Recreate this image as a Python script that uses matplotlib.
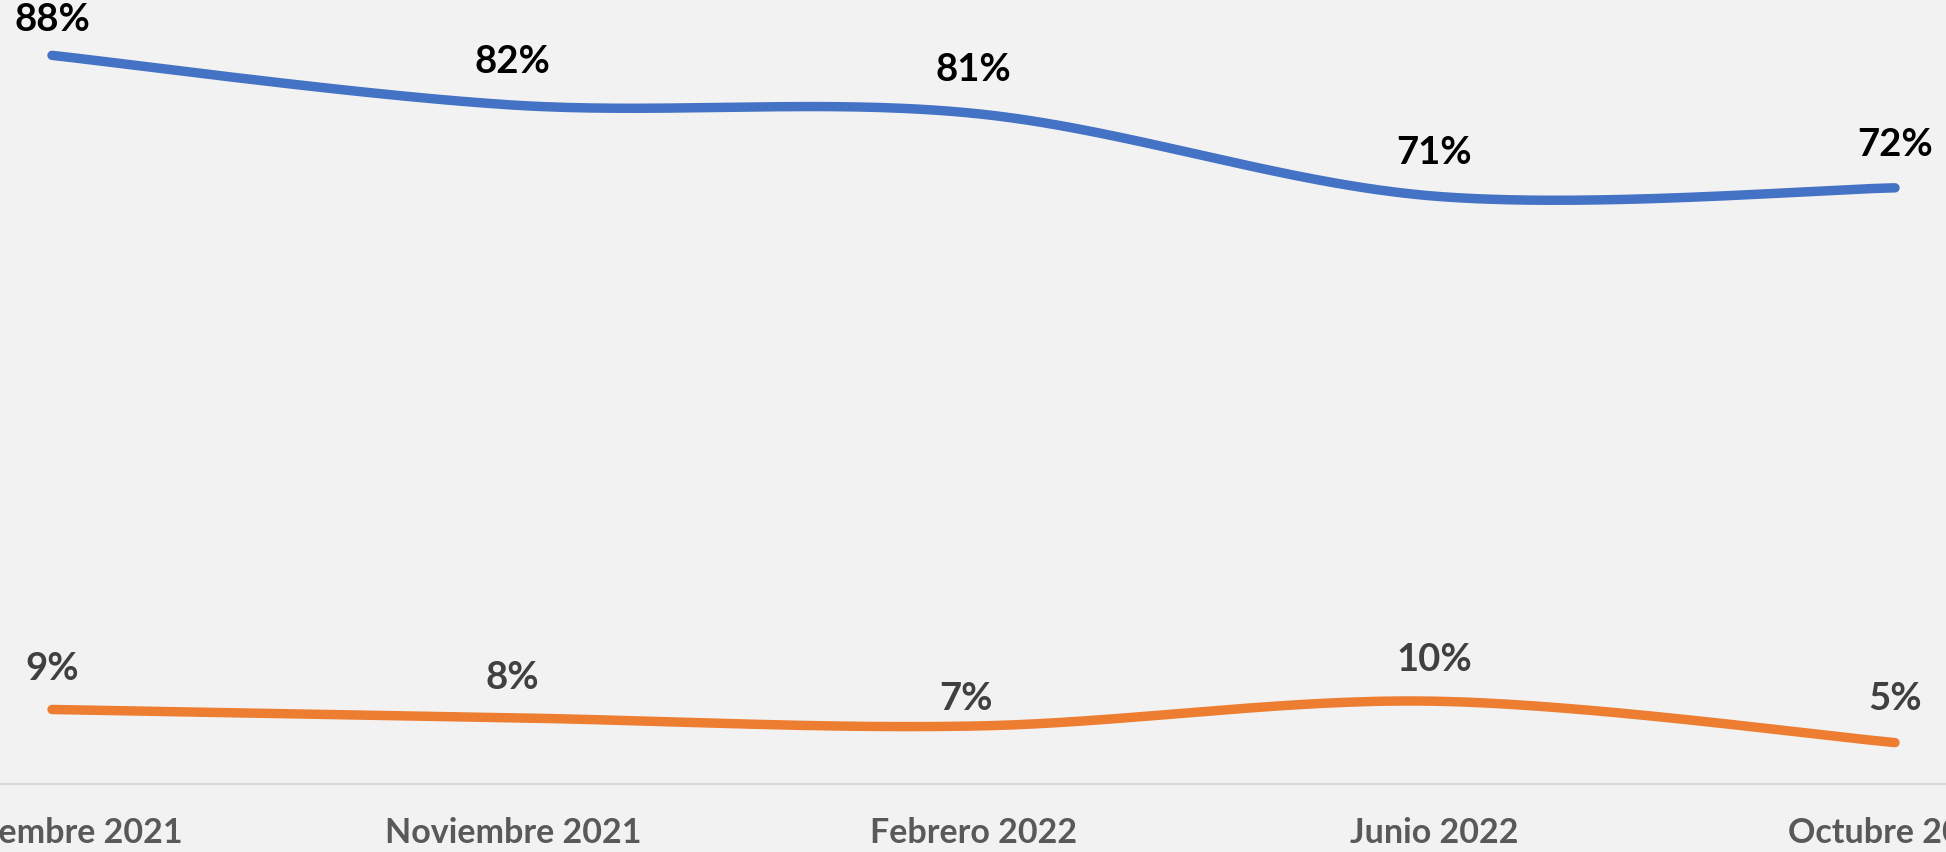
import numpy as np
import matplotlib
matplotlib.use("Agg")
import matplotlib.pyplot as plt

categories = ["Septiembre 2021", "Noviembre 2021", "Febrero 2022", "Junio 2022", "Octubre 2022"]
serie_azul = [88, 82, 81, 71, 72]
serie_naranja = [9, 8, 7, 10, 5]

plt.rcParams['font.family'] = ['Lato', 'DejaVu Sans']

BG = '#F2F2F2'
AZUL = '#4472C4'
NARANJA = '#ED7D31'


def smooth(xs, ys, n=60):
    # bezier tipo Excel (catmull-rom) entre puntos
    xs = np.asarray(xs, float)
    ys = np.asarray(ys, float)
    px = np.concatenate([[xs[0]], xs, [xs[-1]]])
    py = np.concatenate([[ys[0]], ys, [ys[-1]]])
    out_x, out_y = [], []
    t = np.linspace(0, 1, n)
    for i in range(1, len(px) - 2):
        p0 = np.array([px[i], py[i]])
        p3 = np.array([px[i + 1], py[i + 1]])
        c1 = p0 + (np.array([px[i + 1], py[i + 1]]) - np.array([px[i - 1], py[i - 1]])) / 6
        c2 = p3 - (np.array([px[i + 2], py[i + 2]]) - np.array([px[i], py[i]])) / 6
        b = ((1 - t) ** 3)[:, None] * p0 + (3 * (1 - t) ** 2 * t)[:, None] * c1 \
            + (3 * (1 - t) * t ** 2)[:, None] * c2 + (t ** 3)[:, None] * p3
        out_x.extend(b[:, 0])
        out_y.extend(b[:, 1])
    return out_x, out_y


fig = plt.figure(figsize=(19.46, 8.52), dpi=100, facecolor=BG)
ax = fig.add_axes([0, 68 / 852, 1, 1 - 68 / 852])
ax.set_facecolor(BG)

x = np.arange(len(categories))
sx, sy = smooth(x, serie_azul)
ax.plot(sx, sy, color=AZUL, lw=6.8, solid_capstyle='round', clip_on=False)
sx, sy = smooth(x, serie_naranja)
ax.plot(sx, sy, color=NARANJA, lw=6.8, solid_capstyle='round', clip_on=False)

ax.set_xlim(-52 / 460.75, (1946 - 52) / 460.75)
ax.set_ylim(0, 784 / 8.28)

ax.axhline(0, color='#D9D9D9', lw=1.6, clip_on=False)
for s in ax.spines.values():
    s.set_visible(False)
ax.set_yticks([])
ax.set_xticks(x)
ax.set_xticklabels(categories, fontsize=24.5, fontweight='bold', color='#595959')
ax.tick_params(axis='x', length=0, pad=35)
for lab in ax.get_xticklabels():
    lab.set_va('center')

off_azul = [35, 43, 43, 43, 43]
off_naranja = [40, 40, 27, 41, 44]
for i, v in enumerate(serie_azul):
    ax.annotate(f"{v}%", (x[i], v), xytext=(0, off_azul[i]), textcoords='offset pixels',
                ha='center', va='center', fontsize=27.5, fontweight='bold', color='#000000',
                annotation_clip=False)
for i, v in enumerate(serie_naranja):
    ax.annotate(f"{v}%", (x[i], v), xytext=(-8 if i == 2 else 0, off_naranja[i]),
                textcoords='offset pixels', ha='center', va='center', fontsize=27.5,
                fontweight='bold', color='#404040', annotation_clip=False)

fig.savefig('out.png', dpi=100, facecolor=BG)
